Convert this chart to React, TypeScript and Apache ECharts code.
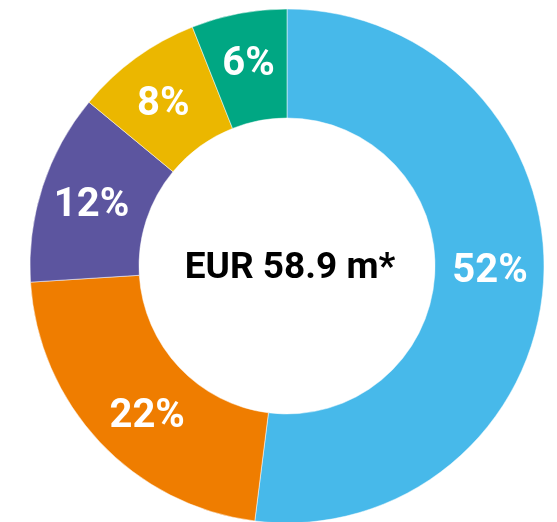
import React, { useEffect, useRef } from "react";
import * as echarts from "echarts";

const categories = ["A", "B", "C", "D", "E"];
const values = [52, 22, 12, 8, 6];
const colors = ["#47b9ea", "#ef7d00", "#5c559f", "#ebb700", "#00a783"];
const centerLabel = "EUR 58.9 m*";

// small manual nudges of the inside labels (style, not data)
const labelNudge: [number, number][] = [
  [-2, -10],
  [10, 7],
  [0, 0],
  [-3, 2],
  [0, -3],
];

export default function App() {
  const ref = useRef<HTMLDivElement>(null);
  useEffect(() => {
    if (!ref.current) return;
    const chart = echarts.init(ref.current, null, { renderer: "svg" });
    chart.setOption({
      animation: false,
      graphic: [
        {
          type: "text",
          x: 290,
          y: 265,
          style: {
            text: centerLabel,
            font: "bold 37px Roboto",
            fill: "#000",
            align: "center",
            verticalAlign: "middle",
          },
        },
      ],
      series: [
        {
          type: "pie",
          center: [287, 266],
          radius: [148, 257],
          startAngle: 90,
          clockwise: true,
          label: {
            show: true,
            position: "inside",
            formatter: "{c}%",
            color: "#fff",
            fontFamily: "Roboto",
            fontWeight: "bold",
            fontSize: 40,
          },
          labelLayout: (p: any) => {
            const n = labelNudge[p.dataIndex] || [0, 0];
            return { dx: n[0], dy: n[1] };
          },
          labelLine: { show: false },
          itemStyle: { borderColor: "#fff", borderWidth: 0.5 },
          emphasis: { disabled: true },
          data: categories.map((name, i) => ({
            name,
            value: values[i],
            itemStyle: { color: colors[i] },
          })),
        },
      ],
    });
    return () => chart.dispose();
  }, []);
  return (
    <div
      ref={ref}
      style={{ position: "fixed", left: 0, top: 0, width: 557, height: 522 }}
    />
  );
}
